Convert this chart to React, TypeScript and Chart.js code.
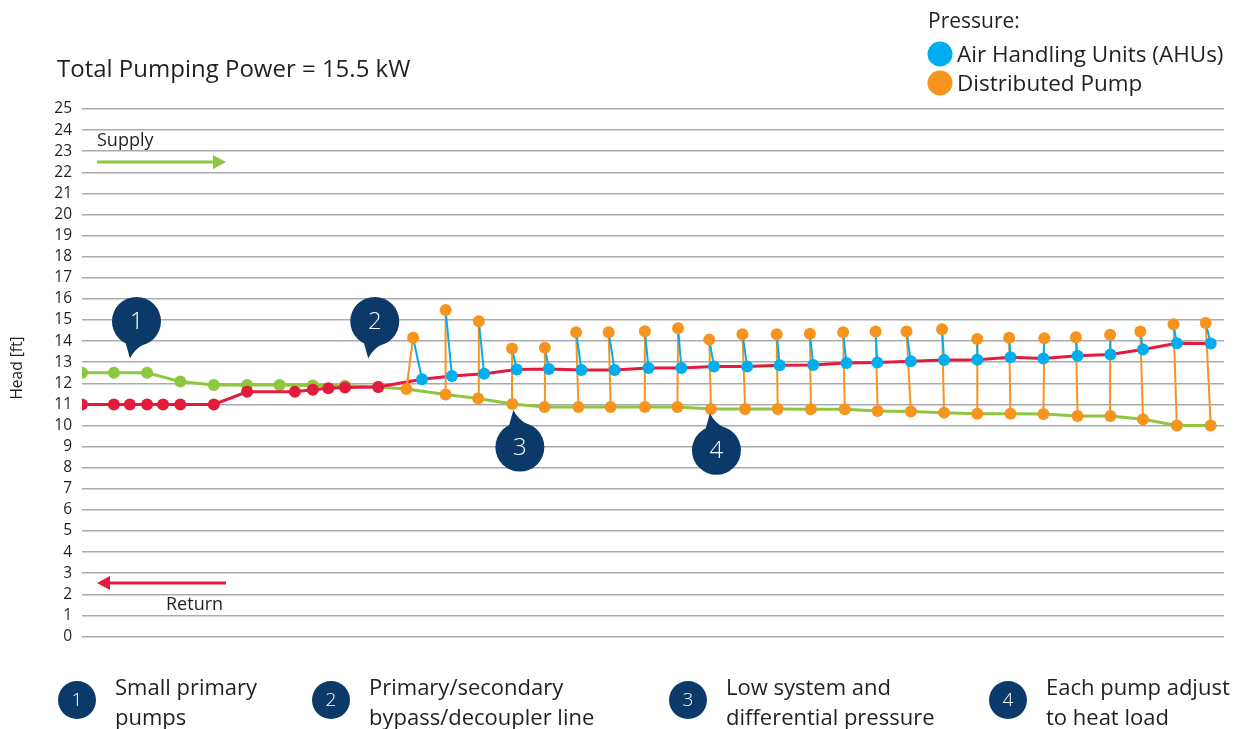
import React, { useEffect, useRef } from "react";
import { Chart, registerables } from "chart.js";

Chart.register(...registerables);

const FONT = "'Open Sans', 'Noto Sans', sans-serif";
const TEXT = "#231f20";
const GREEN = "#8dc63f";
const RED = "#e31b3c";
const BLUE = "#00aeef";
const ORANGE = "#f7941d";
const NAVY = "#0b3a6a";
const GRID = "#a9abae";

const TITLE = "Total Pumping Power = 15.5 kW";
const Y_TITLE = "Head [ft]";
const Y_TICKS = [0, 25];
const LEGEND_HEADER = "Pressure:";
const LEGEND_ITEMS = ["Air Handling Units (AHUs)", "Distributed Pump"];
const NOTES = [
  ["Small primary", "pumps"],
  ["Primary/secondary", "bypass/decoupler line"],
  ["Low system and", "differential pressure"],
  ["Each pump adjust", "to heat load"],
];

// positions along the loop (station units)
const X_RANGE = [0, 34.39];

// supply (green) markers in the plant
const supplyMarkX = [0, 0.96, 1.96, 2.96, 3.97, 4.97, 5.95, 6.95, 7.92, 8.92];
const supplyMarkHead = [12.5, 12.5, 12.5, 12.08, 11.92, 11.92, 11.92, 11.9, 11.88, 11.83];

// return (red) markers in the plant
const returnMarkX = [0, 0.96, 1.44, 1.96, 2.44, 2.96, 3.97, 4.97, 6.41, 6.95, 7.42, 7.92, 8.92];
const returnMarkHead = [11, 11, 11, 11, 11, 11, 11, 11.6, 11.6, 11.69, 11.76, 11.8, 11.82];

// distributed pumps: inlet (on supply line) and outlet
const pumpInX = [9.77, 10.95, 11.93, 12.96, 13.93, 14.95, 15.92, 16.95, 17.93, 18.94, 19.97, 20.95, 21.95, 22.97, 23.96, 24.96, 25.96, 26.96, 27.96, 28.95, 29.98, 30.97, 31.95, 32.97, 33.99];
const pumpInHead = [11.73, 11.47, 11.28, 11.02, 10.88, 10.88, 10.88, 10.88, 10.88, 10.78, 10.78, 10.78, 10.77, 10.77, 10.69, 10.66, 10.61, 10.56, 10.56, 10.54, 10.45, 10.45, 10.3, 10.0, 10.0];
const pumpOutX = [9.97, 10.95, 11.95, 12.95, 13.94, 14.88, 15.86, 16.95, 17.95, 18.89, 19.89, 20.92, 21.92, 22.92, 23.9, 24.83, 25.9, 26.96, 27.92, 28.98, 29.93, 30.96, 31.87, 32.87, 33.84];
const pumpOutHead = [14.16, 15.47, 14.94, 13.65, 13.68, 14.42, 14.42, 14.47, 14.61, 14.07, 14.33, 14.33, 14.35, 14.42, 14.46, 14.46, 14.56, 14.1, 14.16, 14.13, 14.18, 14.3, 14.46, 14.8, 14.86];

// AHU leaving pressure (on return line)
const ahuX = [10.24, 11.14, 12.11, 13.09, 14.06, 15.04, 16.04, 17.06, 18.05, 19.03, 20.03, 21.01, 22.02, 23.02, 23.95, 24.96, 25.96, 26.96, 27.96, 28.95, 29.98, 30.97, 31.95, 32.97, 33.99];
const ahuHead = [12.19, 12.35, 12.45, 12.65, 12.68, 12.63, 12.63, 12.72, 12.73, 12.8, 12.8, 12.86, 12.87, 12.96, 12.98, 13.04, 13.1, 13.12, 13.23, 13.18, 13.31, 13.37, 13.6, 13.9, 13.89];

// numbered callouts: tip anchor in data units, and pointing direction (true = bubble above)
const calloutX = [1.445, 8.62, 12.99, 18.91];
const calloutHead = [13.18, 13.18, 10.73, 10.58];
const calloutAbove = [true, true, false, false];

const pts = (xs: number[], ys: number[]) => xs.map((x, i) => ({ x, y: ys[i] }));

function drawBubble(ctx: CanvasRenderingContext2D, tipX: number, tipY: number, above: boolean, label: string) {
  const r = 24.5;
  const cx = tipX + 6.5;
  const cy = above ? tipY - 37 : tipY + 37;
  const s = above ? 1 : -1;
  ctx.fillStyle = NAVY;
  ctx.beginPath();
  ctx.arc(cx, cy, r, 0, Math.PI * 2);
  ctx.fill();
  const a1 = (s * 118 * Math.PI) / 180;
  const a2 = (s * 68 * Math.PI) / 180;
  ctx.beginPath();
  ctx.moveTo(cx + r * Math.cos(a1) * 0.96, cy + r * Math.sin(a1) * 0.96);
  ctx.lineTo(tipX, tipY);
  ctx.quadraticCurveTo(tipX + 4, tipY - s * 9, cx + r * Math.cos(a2) * 0.96, cy + r * Math.sin(a2) * 0.96);
  ctx.closePath();
  ctx.fill();
  ctx.fillStyle = "#ffffff";
  ctx.font = `300 24px ${FONT}`;
  ctx.textAlign = "center";
  ctx.textBaseline = "middle";
  ctx.fillText(label, cx, cy + 1);
}

function arrow(ctx: CanvasRenderingContext2D, x1: number, x2: number, y: number, color: string) {
  const dir = Math.sign(x2 - x1);
  ctx.strokeStyle = color;
  ctx.fillStyle = color;
  ctx.lineWidth = 3;
  ctx.beginPath();
  ctx.moveTo(x1, y);
  ctx.lineTo(x2 - dir * 10, y);
  ctx.stroke();
  ctx.beginPath();
  ctx.moveTo(x2, y);
  ctx.lineTo(x2 - dir * 13, y - 7);
  ctx.lineTo(x2 - dir * 13, y + 7);
  ctx.closePath();
  ctx.fill();
}

const annotations = {
  id: "annotations",
  afterDatasetsDraw(chart: any) {
    const ctx: CanvasRenderingContext2D = chart.ctx;
    const xs = chart.scales.x;
    const ys = chart.scales.y;
    ctx.save();

    // title
    ctx.fillStyle = TEXT;
    ctx.textAlign = "left";
    ctx.textBaseline = "alphabetic";
    ctx.font = `24px ${FONT}`;
    ctx.fillText(TITLE, 57, 77);

    // y title
    ctx.save();
    ctx.translate(22, 368);
    ctx.rotate(-Math.PI / 2);
    ctx.textAlign = "center";
    ctx.textBaseline = "alphabetic";
    ctx.font = `15.5px ${FONT}`;
    ctx.fillText(Y_TITLE, 0, 0);
    ctx.restore();

    // legend
    ctx.textAlign = "left";
    ctx.font = `21px ${FONT}`;
    ctx.fillText(LEGEND_HEADER, 928, 28);
    ctx.font = `22.5px ${FONT}`;
    [BLUE, ORANGE].forEach((c, i) => {
      ctx.fillStyle = c;
      ctx.beginPath();
      ctx.arc(940, 54 + i * 29, 12.5, 0, Math.PI * 2);
      ctx.fill();
      ctx.fillStyle = TEXT;
      ctx.fillText(LEGEND_ITEMS[i], 957, 62 + i * 29);
    });

    // supply / return
    ctx.font = `18px ${FONT}`;
    ctx.fillText("Supply", 97, 146);
    arrow(ctx, 97, 226, 162, GREEN);
    ctx.fillStyle = TEXT;
    ctx.fillText("Return", 166, 610);
    arrow(ctx, 226, 97, 583, RED);

    // callouts
    calloutX.forEach((v, i) => {
      drawBubble(ctx, xs.getPixelForValue(v), ys.getPixelForValue(calloutHead[i]), calloutAbove[i], String(i + 1));
    });

    // notes at bottom
    const noteX = [77, 331, 688, 1008];
    NOTES.forEach((lines, i) => {
      ctx.fillStyle = NAVY;
      ctx.beginPath();
      ctx.arc(noteX[i], 700, 19, 0, Math.PI * 2);
      ctx.fill();
      ctx.fillStyle = "#ffffff";
      ctx.font = `300 19px ${FONT}`;
      ctx.textAlign = "center";
      ctx.textBaseline = "middle";
      ctx.fillText(String(i + 1), noteX[i], 701);
      ctx.fillStyle = TEXT;
      ctx.font = `22px ${FONT}`;
      ctx.textAlign = "left";
      ctx.textBaseline = "alphabetic";
      ctx.fillText(lines[0], noteX[i] + 38, 695);
      ctx.fillText(lines[1], noteX[i] + 38, 725);
    });
    ctx.restore();
  },
};

export default function App() {
  const ref = useRef<HTMLCanvasElement>(null);
  useEffect(() => {
    document.body.style.margin = "0";
    const gapped = (ax: number[], ay: number[], bx: number[], by: number[]) => {
      const out: any[] = [];
      ax.forEach((x, i) => {
        out.push({ x, y: ay[i] }, { x: bx[i], y: by[i] }, { x: bx[i], y: null });
      });
      return out;
    };
    const supplyLine = [...pts(supplyMarkX, supplyMarkHead), ...pts(pumpInX, pumpInHead)];
    const returnLine = [...pts(returnMarkX, returnMarkHead), ...pts(ahuX, ahuHead)];
    const chart = new Chart(ref.current!, {
      type: "scatter",
      data: {
        datasets: [
          {
            label: "AHU",
            data: pts(ahuX, ahuHead),
            showLine: false,
            pointRadius: 6,
            pointBorderWidth: 0,
            pointBackgroundColor: BLUE,
            order: 0,
          } as any,
          {
            label: "Pump",
            data: [...pts(pumpInX, pumpInHead), ...pts(pumpOutX, pumpOutHead)],
            showLine: false,
            pointRadius: 6,
            pointBorderWidth: 0,
            pointBackgroundColor: ORANGE,
            order: 1,
          },
          {
            label: "AHU link",
            data: gapped(pumpOutX, pumpOutHead, ahuX, ahuHead),
            showLine: true,
            borderColor: BLUE,
            borderWidth: 2,
            pointRadius: 0,
            spanGaps: false,
            order: 2,
          },
          {
            label: "Pump link",
            data: gapped(pumpInX, pumpInHead, pumpOutX, pumpOutHead),
            showLine: true,
            borderColor: ORANGE,
            borderWidth: 2,
            pointRadius: 0,
            spanGaps: false,
            order: 3,
          },
          {
            label: "Return",
            data: returnLine,
            showLine: true,
            borderColor: RED,
            borderWidth: 3,
            pointRadius: returnLine.map((_, i) => (i < returnMarkX.length ? 6 : 0)),
            pointBorderWidth: 0,
            pointBackgroundColor: RED,
            order: 4,
          },
          {
            label: "Supply",
            data: supplyLine,
            showLine: true,
            borderColor: GREEN,
            borderWidth: 3,
            pointRadius: supplyLine.map((_, i) => (i < supplyMarkX.length ? 6 : 0)),
            pointBorderWidth: 0,
            pointBackgroundColor: GREEN,
            order: 5,
          },
        ],
      },
      options: {
        animation: false,
        responsive: false,
        maintainAspectRatio: false,
        devicePixelRatio: 1,
        layout: { padding: { left: 0, right: 18, top: 109, bottom: 92.5 } },
        plugins: { legend: { display: false }, tooltip: { enabled: false } },
        scales: {
          x: { type: "linear", min: X_RANGE[0], max: X_RANGE[1], display: false },
          y: {
            min: Y_TICKS[0],
            max: Y_TICKS[1],
            afterFit: (s: any) => {
              s.width = 82;
            },
            border: { display: false },
            grid: { color: GRID, lineWidth: 1.5, drawTicks: false },
            ticks: {
              stepSize: 1,
              autoSkip: false,
              padding: 10,
              color: TEXT,
              font: { family: FONT, size: 15.5 },
            },
          },
        },
      },
      plugins: [annotations],
    });
    return () => chart.destroy();
  }, []);
  return (
    <div style={{ position: "fixed", left: 0, top: 0, width: 1242, height: 729, background: "#fff" }}>
      <canvas ref={ref} width={1242} height={729} style={{ width: 1242, height: 729, display: "block" }} />
    </div>
  );
}
